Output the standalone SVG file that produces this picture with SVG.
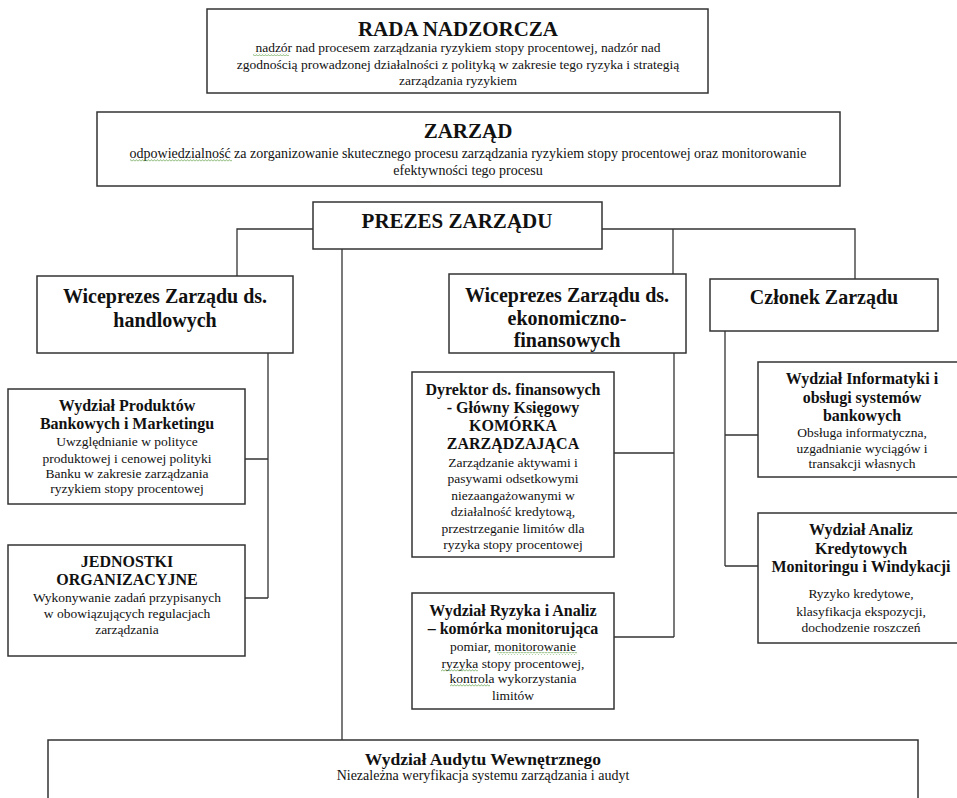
<svg xmlns="http://www.w3.org/2000/svg" width="957" height="798" viewBox="0 0 957 798">
<defs>
<pattern id="wavy" width="3" height="3" patternUnits="userSpaceOnUse">
<path d="M0 2.4 L1.5 0.6 L3 2.4" stroke="#5c9e44" fill="none" stroke-width="0.7"/>
</pattern>
</defs>
<style>
.box{fill:#fff;stroke:#333;stroke-width:1.5}
.con{stroke:#333;stroke-width:1.3;fill:none}
text{font-family:"Liberation Serif","Times New Roman",serif;text-anchor:middle;fill:#111}
.t1{font-size:21px;font-weight:bold}
.t2{font-size:20px;font-weight:bold}
.t3{font-size:16px;font-weight:bold}
.b{font-size:13.5px}
.b14{font-size:14px}
.sq{fill:url(#wavy)}
</style>
<rect width="957" height="798" fill="#fff"/>
<g id="connectors">
<path class="con" d="M313 229H237V276M602 229H855V279M673 229V274M342 249V740"/>
<path class="con" d="M268 353V598M245 459H268M245 598H268"/>
<path class="con" d="M674 353V637M614 453H674M614 637H674"/>
<path class="con" d="M725 331V566M725 435H758M725 566H758"/>
</g>
<g id="rada">
<rect class="box" x="207" y="9" width="501" height="84"/>
<text class="t1" x="458" y="36">RADA NADZORCZA</text>
<text class="b" x="458" y="52">nadzór nad procesem zarządzania  ryzykiem stopy procentowej, nadzór nad</text>
<text class="b" x="458" y="69">zgodnością prowadzonej działalności  z polityką w zakresie tego ryzyka i strategią</text>
<text class="b" x="458" y="85">zarządzania  ryzykiem</text>
<rect class="sq" x="253" y="53" width="36" height="3"/>
</g>
<g id="zarzad">
<rect class="box" x="97" y="112" width="743" height="74"/>
<text class="t1" x="468" y="138">ZARZĄD</text>
<text class="b14" x="468" y="158">odpowiedzialność za zorganizowanie skutecznego procesu zarządzania ryzykiem stopy procentowej oraz monitorowanie</text>
<text class="b14" x="468" y="175">efektywności tego procesu</text>
<rect class="sq" x="130" y="159" width="102" height="3"/>
</g>
<g id="prezes">
<rect class="box" x="313" y="202" width="289" height="47"/>
<text class="t1" x="457" y="228">PREZES ZARZĄDU</text>
</g>
<g id="wice-handl">
<rect class="box" x="37" y="276" width="256" height="77"/>
<text class="t2" x="165" y="303">Wiceprezes Zarządu ds.</text>
<text class="t2" x="165" y="327">handlowych</text>
</g>
<g id="wice-ekon">
<rect class="box" x="449" y="274" width="237" height="79"/>
<text class="t2" x="567" y="302">Wiceprezes Zarządu ds.</text>
<text class="t2" x="567" y="325">ekonomiczno-</text>
<text class="t2" x="567" y="347">finansowych</text>
</g>
<g id="czlonek">
<rect class="box" x="710" y="279" width="228" height="52"/>
<text class="t2" x="824" y="304">Członek Zarządu</text>
</g>
<g id="produkty">
<rect class="box" x="8" y="389" width="237" height="115"/>
<text class="t3" x="127" y="411">Wydział Produktów</text>
<text class="t3" x="127" y="429">Bankowych i Marketingu</text>
<text class="b" x="127" y="446">Uwzględnianie w polityce</text>
<text class="b" x="127" y="463">produktowej i cenowej polityki</text>
<text class="b" x="127" y="478">Banku w zakresie zarządzania</text>
<text class="b" x="127" y="493">ryzykiem stopy procentowej</text>
</g>
<g id="jednostki">
<rect class="box" x="8" y="545" width="237" height="111"/>
<text class="t3" x="127" y="567">JEDNOSTKI</text>
<text class="t3" x="127" y="585">ORGANIZACYJNE</text>
<text class="b" x="127" y="602">Wykonywanie zadań przypisanych</text>
<text class="b" x="127" y="618">w obowiązujących regulacjach</text>
<text class="b" x="127" y="634">zarządzania</text>
</g>
<g id="dyrektor">
<rect class="box" x="412" y="372" width="202" height="185"/>
<text class="t3" x="513" y="395">Dyrektor ds. finansowych</text>
<text class="t3" x="513" y="413">- Główny Księgowy</text>
<text class="t3" x="513" y="431">KOMÓRKA</text>
<text class="t3" x="513" y="449">ZARZĄDZAJĄCA</text>
<text class="b" x="513" y="467">Zarządzanie  aktywami i</text>
<text class="b" x="513" y="483">pasywami odsetkowymi</text>
<text class="b" x="513" y="500">niezaangażowanymi  w</text>
<text class="b" x="513" y="516">działalność  kredytową,</text>
<text class="b" x="513" y="533">przestrzeganie limitów  dla</text>
<text class="b" x="513" y="549">ryzyka stopy procentowej</text>
</g>
<g id="ryzyka">
<rect class="box" x="412" y="593" width="202" height="116"/>
<text class="t3" x="513" y="616">Wydział Ryzyka i Analiz</text>
<text class="t3" x="513" y="634">– komórka monitorująca</text>
<text class="b" x="513" y="651">pomiar, monitorowanie</text>
<text class="b" x="513" y="668">ryzyka stopy procentowej,</text>
<text class="b" x="513" y="683">kontrola wykorzystania</text>
<text class="b" x="513" y="700">limitów</text>
<rect class="sq" x="497" y="652" width="80" height="3"/>
<rect class="sq" x="441" y="669" width="37" height="3"/>
<rect class="sq" x="450" y="684" width="40" height="3"/>
</g>
<g id="informatyka">
<rect class="box" x="758" y="362" width="210" height="115"/>
<text class="t3" x="862" y="384">Wydział Informatyki i</text>
<text class="t3" x="862" y="403">obsługi systemów</text>
<text class="t3" x="862" y="421">bankowych</text>
<text class="b" x="862" y="437">Obsługa informatyczna,</text>
<text class="b" x="862" y="453">uzgadnianie wyciągów i</text>
<text class="b" x="862" y="468">transakcji własnych</text>
</g>
<g id="analizy">
<rect class="box" x="758" y="513" width="210" height="130"/>
<text class="t3" x="861" y="535">Wydział Analiz</text>
<text class="t3" x="861" y="554">Kredytowych</text>
<text class="t3" x="861" y="572">Monitoringu i Windykacji</text>
<text class="b" x="861" y="598">Ryzyko kredytowe,</text>
<text class="b" x="861" y="616">klasyfikacja ekspozycji,</text>
<text class="b" x="861" y="632">dochodzenie roszczeń</text>
</g>
<g id="audyt">
<rect class="box" x="48" y="740" width="870" height="70"/>
<text class="t3" x="483" y="765" style="font-size:17.5px">Wydział Audytu Wewnętrznego</text>
<text class="b14" x="483" y="780">Niezależna weryfikacja systemu zarządzania  i audyt</text>
</g>
</svg>
